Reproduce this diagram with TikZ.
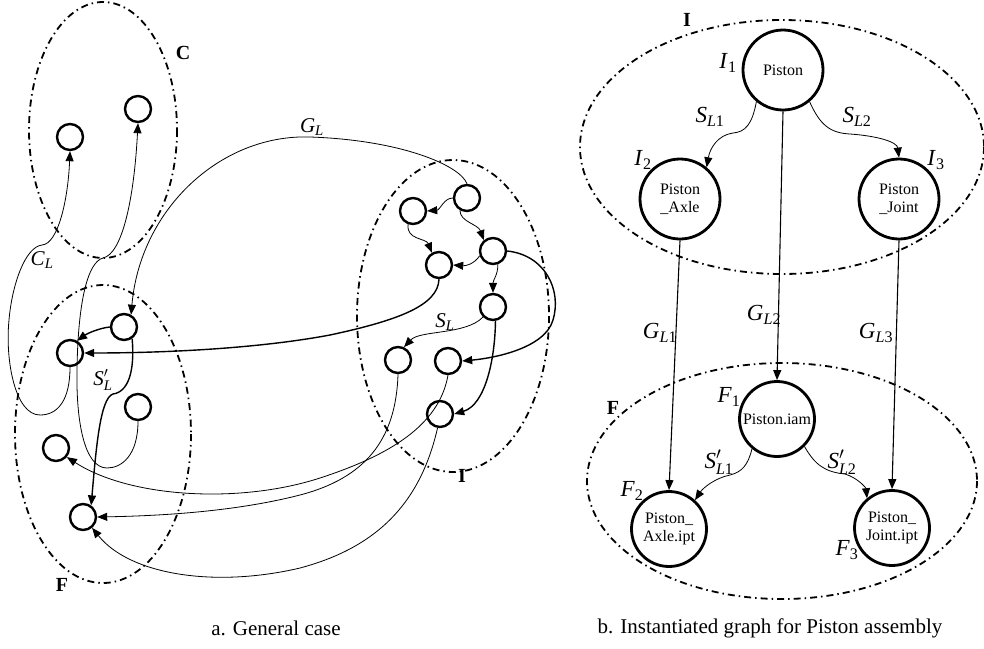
\documentclass[tikz,border=0pt]{standalone}
\usepackage{amsmath}
\usepackage{fontspec}
\setmainfont{Liberation Serif}
\usepackage{tikz}
\usetikzlibrary{arrows.meta}

\newcommand{\lb}[3]{\textit{#1}$_{\text{\itshape #2}\text{#3}}$}
\newcommand{\lbp}[3]{\textit{#1}$^{\prime}_{\text{\itshape #2}\text{#3}}$}

\begin{document}
\begin{tikzpicture}[x=1pt,y=-1pt,
		sn/.style={circle,draw=black,line width=2.4pt,minimum size=26pt,inner sep=0pt},
		bn/.style={circle,draw=black,line width=2.8pt,minimum size=80pt,inner sep=0pt,align=center,font=\fontsize{16}{18}\selectfont},
		grp/.style={line width=1.8pt,dash pattern=on 7pt off 4pt on 1.5pt off 4pt},
		ln/.style={line width=0.8pt,-{Triangle[length=10pt,width=8pt]}},
		lk/.style={line width=1.4pt,-{Triangle[length=10pt,width=8pt]}},
		ml/.style={font=\fontsize{21}{25}\selectfont},
		mr/.style={font=\fontsize{23}{27}\selectfont},
		gl/.style={font=\fontsize{20}{24}\selectfont\bfseries},
		captxt/.style={font=\fontsize{21}{25}\selectfont}]
			\useasboundingbox (0,0) rectangle (984,648);
			
			% general case
			
			\draw[grp] (103,130) ellipse [x radius=74,y radius=128];
			\draw[grp] (103,434) ellipse [x radius=88,y radius=149];
			\draw[grp] (453,316) ellipse [x radius=96,y radius=156];
			\foreach \n/\x/\y in {1/70/137,2/138/109}
				\node[sn] (C\n) at (\x,\y) {};
			\foreach \n/\x/\y in {1/124/327,2/70/353,3/138/407,4/56/448,5/83/517}
				\node[sn] (F\n) at (\x,\y) {};
			\foreach \n/\x/\y in {1/467/198,2/413/211,3/493/251,4/439/265,5/493/307,6/398/360,7/448/361,8/440/414}
				\node[sn] (I\n) at (\x,\y) {};
			
			\draw[ln] (I1.west) .. controls (444,198) and (440,210) .. (I2.east);
			\draw[ln] (I1.240) .. controls (460,222) and (478,224) .. (I3.130);
			\draw[ln] (I2.250) .. controls (406,240) and (426,238) .. (I4.120);
			\draw[ln] (I3.200) .. controls (474,264) and (466,266) .. (I4.east);
			\draw[ln] (I3.-70) .. controls (498,275) and (493,280) .. (I5.north);
			\draw[lk] (I3.east) .. controls (545,255) and (562,290) .. (553,320) .. controls (545,348) and (495,358) .. (I7.east);
			\draw[ln] (I5.225) .. controls (466,335) and (420,330) .. (I6.65);
			\draw[lk] (I5.-80) .. controls (495,360) and (485,405) .. (I8.east);
			
			\draw[ln] (I1.north) .. controls (460,165) and (400,140) .. (310,137) .. controls (220,134) and (140,210) .. (F1.60);
			\draw[ln] (F2.south) .. controls (70,400) and (58,415) .. (40,415) .. controls (15,415) and (5,360) .. (9,320) .. controls (12,285) and (25,247) .. (42,245) .. controls (58,244) and (68,200) .. (C1.south);
			\draw[ln] (F3.south) .. controls (138,455) and (122,468) .. (107,468) .. controls (84,468) and (76,420) .. (77,370) .. controls (78,300) and (88,262) .. (103,258) .. controls (122,254) and (134,200) .. (C2.south);
			\draw[lk] (F1.west) .. controls (100,328) and (88,333) .. (F2.60);
			\draw[lk] (F1.-55) .. controls (135,372) and (128,392) .. (113,394) .. controls (100,398) and (96,450) .. (F5.55);
			\draw[lk] (I4.south) .. controls (438,305) and (400,320) .. (330,335) .. controls (250,350) and (150,353) .. (F2.east);
			\draw[ln] (I6.south) .. controls (396,440) and (365,478) .. (300,495) .. controls (230,513) and (150,516) .. (F5.east);
			\draw[ln] (I7.south) .. controls (440,420) and (400,452) .. (320,478) .. controls (240,504) and (130,498) .. (F4.-40);
			\draw[ln] (I8.-100) .. controls (420,505) and (375,548) .. (300,568) .. controls (215,588) and (130,575) .. (F5.-50);
			
			\node[gl] (tC) at (183,53) {C};
			\node[gl] (tF) at (62,585) {F};
			\node[gl] (tI) at (462,476) {I};
			\node[ml] (tGL) at (312,127) {\lb{G}{L}{}};
			\node[ml] (tCL) at (42,260) {\lb{C}{L}{}};
			\node[ml] (tSpL) at (103,380) {\lbp{S}{L}{}};
			\node[ml] (tSL) at (445,322) {\lb{S}{L}{}};
			\node[captxt] (capA) at (276,628) {a. General case};
			
			% piston
			
			\draw[grp] (782,147) ellipse [x radius=202,y radius=127];
			\draw[grp] (782,481) ellipse [x radius=195,y radius=118];
			\node[bn] (R1) at (783,70) {Piston};
			\node[bn] (R2) at (680,199) {Piston\\\_Axle};
			\node[bn] (R3) at (899,199) {Piston\\\_Joint};
			\node[bn,minimum size=75pt] (Q1) at (777,419) {Piston.iam};
			\node[bn,minimum size=75pt] (Q2) at (669,529) {Piston\_\\Axle.ipt};
			\node[bn,minimum size=75pt] (Q3) at (892,528) {Piston\_\\Joint.ipt};
			
			\draw[ln] (R1.230) .. controls (752,125) and (745,132) .. (733,133) .. controls (718,135) and (710,148) .. (R2.50);
			\draw[ln] (R1.-50) .. controls (820,125) and (830,133) .. (850,134) .. controls (878,136) and (897,142) .. (R3.north);
			\draw[ln,line width=1.1pt] (R1.south) -- (Q1.north);
			\draw[ln,line width=1.1pt] (R2.south) -- (Q2.north);
			\draw[ln,line width=1.1pt] (R3.south) -- (Q3.north);
			\draw[ln] (Q1.230) .. controls (748,465) and (742,472) .. (730,475) .. controls (715,478) and (703,488) .. (Q2.48);
			\draw[ln] (Q1.-45) .. controls (815,465) and (825,472) .. (845,474) .. controls (858,478) and (866,488) .. (Q3.130);
			
			\node[gl] (uI) at (687,20) {I};
			\node[gl] (uF) at (613,408) {F};
			\node[mr] (uI1) at (728,63) {\lb{I}{}{1}};
			\node[mr] (uI2) at (643,160) {\lb{I}{}{2}};
			\node[mr] (uI3) at (936,160) {\lb{I}{}{3}};
			\node[mr] (uS1) at (710,117) {\lb{S}{L}{1}};
			\node[mr] (uS2) at (857,117) {\lb{S}{L}{2}};
			\node[mr] (uG1) at (660,333) {\lb{G}{L}{1}};
			\node[mr] (uG2) at (764,315) {\lb{G}{L}{2}};
			\node[mr] (uG3) at (876,333) {\lb{G}{L}{3}};
			\node[mr] (uF1) at (729,397) {\lb{F}{}{1}};
			\node[mr] (uF2) at (632,491) {\lb{F}{}{2}};
			\node[mr] (uF3) at (847,550) {\lb{F}{}{3}};
			\node[mr] (uT1) at (719,462) {\lbp{S}{L}{1}};
			\node[mr] (uT2) at (842,462) {\lbp{S}{L}{2}};
			\node[captxt] (capB) at (770,628) {b. Instantiated graph for Piston assembly};
			
		\end{tikzpicture}
\end{document}
